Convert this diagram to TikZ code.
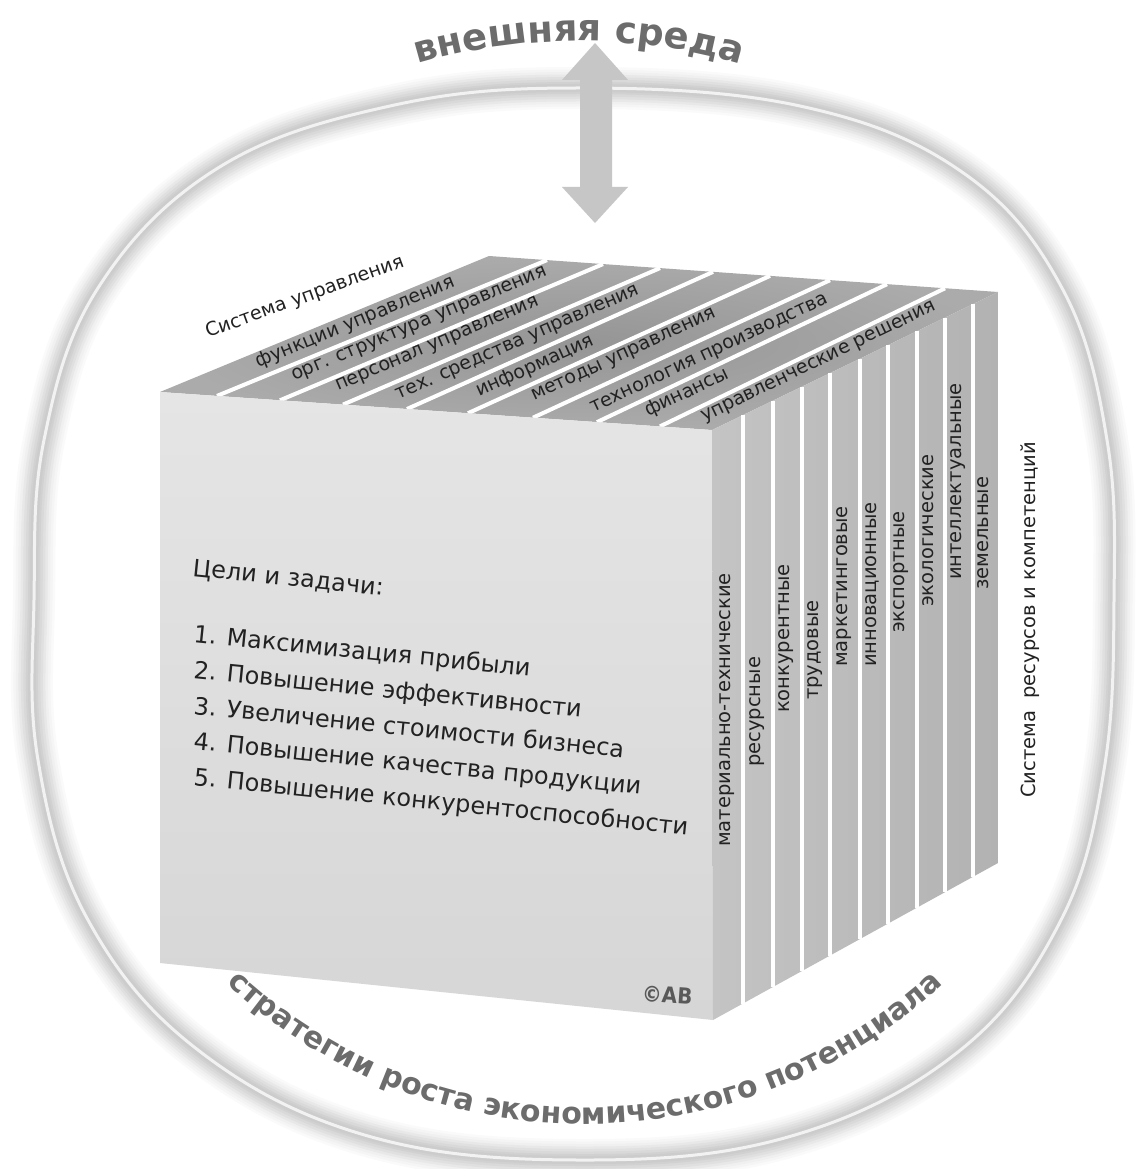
\documentclass[tikz,border=0pt]{standalone}
\usepackage{fontspec}
\setmainfont{DejaVu Sans}
\newfontfamily\condfont{DejaVu Sans Condensed}
\usetikzlibrary{decorations.text}
\definecolor{topA}{HTML}{959595}
\definecolor{topB}{HTML}{ABABAB}
\definecolor{sideA}{HTML}{C4C4C4}
\definecolor{sideB}{HTML}{B2B2B2}
\definecolor{frontA}{HTML}{E5E5E5}
\definecolor{frontB}{HTML}{D6D6D6}
\definecolor{arrowgray}{HTML}{C6C6C6}
\definecolor{titlegray}{HTML}{6C6C6C}
\definecolor{inkgray}{HTML}{222222}
\tikzset{
  toplbl/.style={font=\fontsize{19}{22}\selectfont, text=inkgray, inner sep=0pt, anchor=base west},
  sidelbl/.style={font=\fontsize{19.5}{22}\selectfont, text=inkgray, inner sep=0pt, anchor=mid west, rotate=90},
  goal/.style={font=\fontsize{24}{28}\selectfont, text=inkgray, inner sep=0pt, anchor=base west, rotate=-5.8},
  topline/.style={white, line width=4pt},
  sideline/.style={white, line width=3.5pt},
}
\def\ringpts{(578,88) (800,106) (962,172) (1062,288) (1107,440) (1114,600) (1104,770) (1060,922) (958,1052) (788,1137) (580,1160) (368,1136) (198,1050) (88,920) (38,760) (34,600) (44,440) (98,288) (218,168) (390,106)}
\begin{document}
\begin{tikzpicture}[x=1pt,y=-1pt]
\useasboundingbox (0,0) rectangle (1135,1169);
\fill[white] (0,0) rectangle (1135,1169);

% ---- soft ring ----
\foreach \w/\c in {42/2, 37/4, 32/6, 27/9, 22/12, 17/15, 12/18, 8/20}{
  \draw[line width=\w pt, color=black!\c] plot[smooth cycle, tension=0.65] coordinates {\ringpts};
}
\draw[line width=3pt, white, opacity=0.75] plot[smooth cycle, tension=0.65] coordinates {\ringpts};

% ---- double arrow ----
\fill[arrowgray] (595,43) -- (628,80) -- (612,80) -- (612,187) -- (628,187) -- (595,223)
  -- (562,187) -- (580,187) -- (580,80) -- (562,80) -- cycle;

% ---- top title ----
\path[decorate, decoration={text along path, text align=center, text color=titlegray,
  text={|\fontsize{37}{40}\selectfont\bfseries|внешняя среда}}]
  plot[domain=250:290, samples=80, variable=\t] ({579+580*cos(\t)}, {621+580*sin(\t)});

% ---- cube coordinates ----
\coordinate (F0) at (160,392);
\coordinate (F1) at (217,395.9);
\coordinate (F2) at (280,400.3);
\coordinate (F3) at (343,404.6);
\coordinate (F4) at (407,409.0);
\coordinate (F5) at (468,413.2);
\coordinate (F6) at (533,417.7);
\coordinate (F7) at (597,422.1);
\coordinate (F8) at (660,426.4);
\coordinate (F9) at (712,430);
\coordinate (B0) at (489,256);
\coordinate (B1) at (547,260.1);
\coordinate (B2) at (603,264.1);
\coordinate (B3) at (660,268.1);
\coordinate (B4) at (713,271.9);
\coordinate (B5) at (770,275.9);
\coordinate (B6) at (830,280.2);
\coordinate (B7) at (887,284.2);
\coordinate (B8) at (945,288.3);
\coordinate (B9) at (998,292);
\coordinate (FL) at (160,963);
\coordinate (FR) at (713,1020);
\coordinate (SR) at (998,863);

% top face
\shade[inner color=topA, outer color=topB] (F0) -- (F9) -- (B9) -- (B0) -- cycle;
\foreach \i in {1,...,8}{\draw[topline] (F\i) -- (B\i);}

% front face
\shade[top color=frontA, bottom color=frontB] (F0) -- (F9) -- (FR) -- (FL) -- cycle;

% side face
\shade[left color=sideA, right color=sideB] (F9) -- (B9) -- (SR) -- (FR) -- cycle;
\foreach \x/\a/\b in {743/415.0/1003.5, 773/400.6/987.0, 802/386.6/971.0, 830/373.1/955.6,
  860/358.6/939.0, 888/345.1/923.6, 917/331.1/907.6, 945/317.6/892.2, 973/304.1/876.8}{
  \draw[sideline] (\x,\a) -- (\x,\b);
}

% ---- top labels ----
\node[toplbl, rotate=20] (sysu) at (208,338) {Система управления};
\node[toplbl, rotate=22.4] (t1) at (258,368) {функции управления};
\node[toplbl, rotate=22.6] (t2) at (294,381) {орг. структура управления};
\node[toplbl, rotate=23.1] (t3) at (338,391) {персонал управления};
\node[toplbl, rotate=23.7] (t4) at (398,400) {тех. средства управления};
\node[toplbl, rotate=24.3] (t5) at (479,397) {информация};
\node[toplbl, rotate=24.7] (t6) at (534,401) {методы управления};
\node[toplbl, rotate=25.1] (t7) at (593,413) {технология производства};
\node[toplbl, rotate=25.6] (t8) at (648,417) {финансы};
\node[toplbl, rotate=25.8] (t9) at (704,422) {управленческие решения};

% ---- side labels ----
\node[sidelbl] (s1) at (728,847) {материально-технические};
\node[sidelbl] (s2) at (758,767) {ресурсные};
\node[sidelbl] (s3) at (787,713) {конкурентные};
\node[sidelbl] (s4) at (816,700) {трудовые};
\node[sidelbl] (s5) at (845,667) {маркетинговые};
\node[sidelbl] (s6) at (874,667) {инновационные};
\node[sidelbl] (s7) at (902,633) {экспортные};
\node[sidelbl] (s8) at (931,607) {экологические};
\node[sidelbl] (s9) at (959,580) {интеллектуальные};
\node[sidelbl] (s10) at (986,590) {земельные};
\node[sidelbl] (sysr) at (1033,798) {Система~~ресурсов и компетенций};

% ---- goals ----
\node[goal] (g0) at (192,576) {Цели и задачи:};
\node[goal] (g1) at (193,642) {1. Максимизация прибыли};
\node[goal] (g2) at (193,678) {2. Повышение эффективности};
\node[goal] (g3) at (193,714) {3. Увеличение стоимости бизнеса};
\node[goal] (g4) at (193,749) {4. Повышение качества продукции};
\node[goal] (g5) at (193,785) {5. Повышение конкурентоспособности};

\node[font=\condfont\bfseries\fontsize{22}{24}\selectfont, text=black!65, inner sep=0pt,
  anchor=base east, rotate=-4] (copy) at (692,1005) {©AB};

% ---- bottom title ----
\path[decorate, decoration={text along path, text align=center, text color=titlegray,
  text={|\fontsize{30}{32}\selectfont\bfseries|стратегии роста экономического потенциала}}]
  plot[domain=142:38, samples=120, variable=\t] ({585+528*cos(\t)}, {596+528*sin(\t)});
\end{tikzpicture}
\end{document}
